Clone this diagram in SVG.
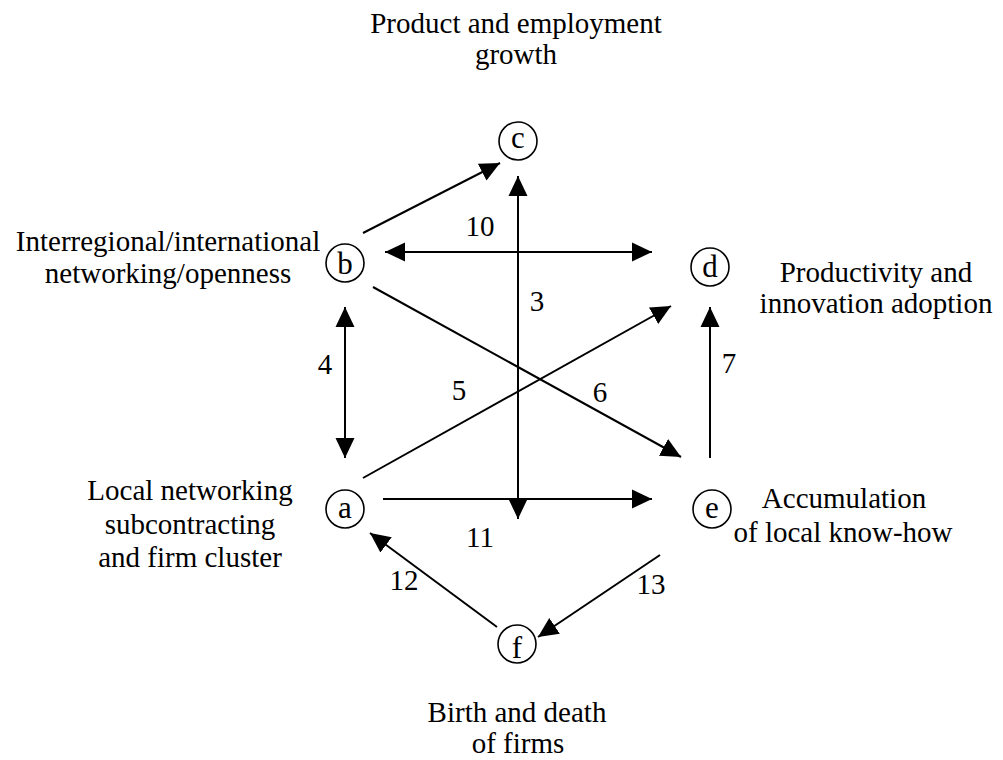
<svg xmlns="http://www.w3.org/2000/svg" width="1003" height="760" viewBox="0 0 1003 760">
<defs>
<style>
text{font-family:"Liberation Serif","Times New Roman",serif;font-size:29px;fill:#000}
.lbl{text-anchor:middle}
.node circle{fill:#fff;stroke:#000;stroke-width:1.6}
.node .id{text-anchor:middle;font-size:31px}
.edge{stroke:#000;stroke-width:2;fill:none}
.one{marker-end:url(#ah)}
.two{marker-start:url(#ah);marker-end:url(#ah)}
</style>
<marker id="ah" viewBox="0 0 20 20" refX="20" refY="10" markerWidth="20" markerHeight="20" markerUnits="userSpaceOnUse" orient="auto-start-reverse">
<path d="M0,0.5 L20,10 L0,19.5 z" fill="#000"/>
</marker>
</defs>
<rect width="1003" height="760" fill="#fff"/>

<g id="connectors">
<line class="edge one" x1="363" y1="233" x2="500" y2="163"/>
<line class="edge two" x1="385" y1="252" x2="652" y2="252"/>
<line class="edge two" x1="518" y1="176" x2="518" y2="519"/>
<line class="edge two" x1="345" y1="307" x2="345" y2="458"/>
<line class="edge one" x1="383" y1="499" x2="652" y2="499"/>
<line class="edge one" x1="373" y1="287" x2="681" y2="457"/>
<line class="edge one" x1="363" y1="478" x2="671" y2="306"/>
<line class="edge one" x1="710" y1="458" x2="710" y2="307"/>
<line class="edge one" x1="497" y1="627" x2="370" y2="533"/>
<line class="edge one" x1="660" y1="555" x2="538" y2="637"/>
<text class="lbl" x="480" y="236">10</text>
<text class="lbl" x="537" y="311">3</text>
<text class="lbl" x="325" y="374">4</text>
<text class="lbl" x="459" y="400">5</text>
<text class="lbl" x="600" y="402">6</text>
<text class="lbl" x="729" y="373">7</text>
<text class="lbl" x="480" y="547">11</text>
<text class="lbl" x="404" y="590">12</text>
<text class="lbl" x="651" y="594">13</text>
</g>

<g id="node-c" class="node">
<circle cx="518" cy="141" r="19"/>
<text class="id" x="518" y="148">c</text>
<text class="lbl" x="516" y="33">Product and employment</text>
<text class="lbl" x="516" y="64">growth</text>
</g>
<g id="node-b" class="node">
<circle cx="345" cy="263" r="19"/>
<text class="id" x="345" y="274">b</text>
<text class="lbl" x="168" y="251">Interregional/international</text>
<text class="lbl" x="168" y="283">networking/openness</text>
</g>
<g id="node-d" class="node">
<circle cx="710" cy="267" r="19"/>
<text class="id" x="710" y="277">d</text>
<text class="lbl" x="876" y="282">Productivity and</text>
<text class="lbl" x="876" y="313">innovation adoption</text>
</g>
<g id="node-a" class="node">
<circle cx="345" cy="509" r="19"/>
<text class="id" x="345" y="518">a</text>
<text class="lbl" x="190" y="500">Local networking</text>
<text class="lbl" x="190" y="534">subcontracting</text>
<text class="lbl" x="190" y="567">and firm cluster</text>
</g>
<g id="node-e" class="node">
<circle cx="712" cy="509" r="19"/>
<text class="id" x="712" y="518">e</text>
<text class="lbl" x="844" y="508">Accumulation</text>
<text class="lbl" x="843" y="542">of local know-how</text>
</g>
<g id="node-f" class="node">
<circle cx="517" cy="644" r="19"/>
<text class="id" x="517" y="658">f</text>
<text class="lbl" x="517" y="722">Birth and death</text>
<text class="lbl" x="518" y="753">of firms</text>
</g>
</svg>
